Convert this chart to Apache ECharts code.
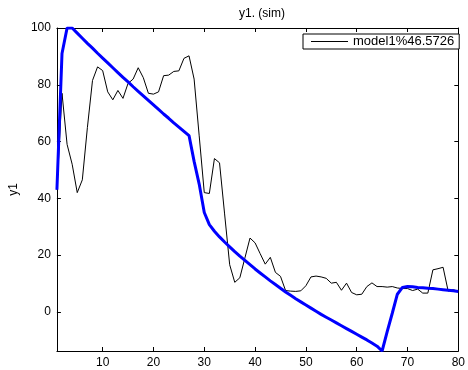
<!DOCTYPE html>
<html>
<head>
<meta charset="utf-8">
<script src="https://cdn.jsdelivr.net/npm/echarts@6/dist/echarts.min.js"></script>
<style>
html,body{margin:0;padding:0;background:#fff;}
#chart{width:468px;height:370px;}
</style>
</head>
<body>
<div id="chart"></div>
<script>
var xTicks = [10, 20, 30, 40, 50, 60, 70, 80];
var yTicks = [0, 20, 40, 60, 80, 100];
var measuredName = 'model1%46.5726';
var measured = [43, 77, 59, 52, 42, 46.5, 65, 81.5, 86.3, 85,
  77.5, 74.7, 78, 75.2, 80.5, 82, 86, 82.5, 77, 76.7,
  77.5, 83.2, 83.4, 84.7, 84.9, 89.3, 90.2, 82, 62, 42,
  41.7, 54, 52.5, 34.5, 16.6, 10.4, 12, 19, 26, 24.3,
  20.5, 16.8, 19.2, 13.9, 12.5, 7.5, 7.3, 7.2, 7.4, 9.2,
  12.3, 12.6, 12.3, 11.8, 10.1, 10.4, 7.6, 10.1, 6.8, 6,
  6.2, 8.9, 10.2, 8.9, 8.9, 8.7, 8.9, 8.4, 8.2, 8.2,
  7.5, 8, 6.6, 6.6, 14.8, 15.2, 15.7, 7.3, 7.8, 7.2];
var simulated = [43, 91, 100, 100, 98.2, 96.4, 94.6, 92.9, 91.1, 89.4,
  87.7, 86.0, 84.3, 82.6, 81.0, 79.3, 77.7, 76.1, 74.5, 72.9,
  71.3, 69.7, 68.2, 66.6, 65.1, 63.6, 62.1, 53, 45, 35,
  30.7, 28.4, 26.4, 24.6, 22.9, 21.2, 19.6, 18.1, 16.6, 15.1,
  13.7, 12.3, 10.9, 9.6, 8.3, 7.0, 5.8, 4.6, 3.5, 2.4,
  1.3, 0.2, -0.9, -1.9, -2.9, -3.9, -4.9, -5.9, -6.9, -7.9,
  -8.9, -9.9, -11, -12.1, -13.8, -7, -0.5, 6.2, 8.6, 8.9,
  8.8, 8.6, 8.5, 8.3, 8.2, 8.0, 7.8, 7.6, 7.4, 7.2];

var FONT = 'Liberation Sans';
function pairs(arr){ return arr.map(function(v,i){ return [i+1, v]; }); }

var chart = echarts.init(document.getElementById('chart'), null, {renderer:'canvas'});
var axisLine = {show:true, onZero:false, lineStyle:{color:'#000', width:1}};
var tick = {show:true, inside:true, length:4, lineStyle:{color:'#000', width:1}};
chart.setOption({
  animation:false,
  backgroundColor:'#fff',
  title:{text:'y1. (sim)', left:257, top:3, textAlign:'center',
    textStyle:{fontFamily:FONT, fontSize:12, fontWeight:'normal', color:'#000'}},
  legend:{data:[measuredName], left:303, top:34, orient:'horizontal',
    backgroundColor:'#fff', borderColor:'#000', borderWidth:1, borderRadius:0,
    padding:[1,5,1,8], itemWidth:37, itemHeight:1, itemGap:3, icon:'rect',
    textStyle:{fontFamily:FONT, fontSize:13, color:'#000', padding:[0,0,0,0]}},
  grid:{left:53, right:7, top:28, bottom:19, containLabel:false},
  xAxis:[
    {type:'value', min:1, max:80, position:'bottom', axisLine:axisLine,
      axisTick:Object.assign({customValues:xTicks}, tick),
      axisLabel:{customValues:xTicks, fontFamily:FONT, fontSize:12, color:'#000', margin:6},
      splitLine:{show:false}},
    {type:'value', min:1, max:80, position:'top', axisLine:axisLine,
      axisTick:Object.assign({customValues:xTicks}, tick),
      axisLabel:{show:false}, splitLine:{show:false}}
  ],
  yAxis:[
    {type:'value', min:-13.8, max:100, position:'left', axisLine:axisLine,
      axisTick:Object.assign({customValues:yTicks}, tick),
      axisLabel:{customValues:yTicks, fontFamily:FONT, fontSize:12, color:'#000', margin:6},
      splitLine:{show:false},
      name:'y1', nameLocation:'middle', nameGap:33, nameRotate:90,
      nameTextStyle:{fontFamily:FONT, fontSize:12, color:'#000'}},
    {type:'value', min:-13.8, max:100, position:'right', axisLine:axisLine,
      axisTick:Object.assign({customValues:yTicks}, tick),
      axisLabel:{show:false}, splitLine:{show:false}}
  ],
  series:[
    {name:measuredName, type:'line', xAxisIndex:0, yAxisIndex:0, data:pairs(measured),
      showSymbol:false, symbol:'none', lineStyle:{color:'#000', width:1}, itemStyle:{color:'#000'}, z:2},
    {name:'sim', type:'line', xAxisIndex:0, yAxisIndex:0, data:pairs(simulated),
      showSymbol:false, symbol:'none', lineStyle:{color:'#0000ff', width:3}, itemStyle:{color:'#0000ff'}, z:3}
  ]
});
</script>
</body>
</html>
